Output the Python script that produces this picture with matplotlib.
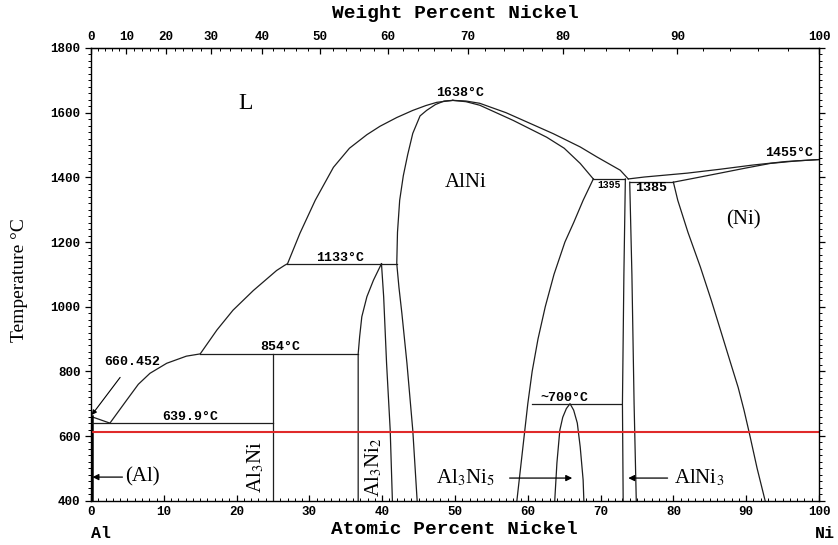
import numpy as np
import matplotlib
matplotlib.use("Agg")
import matplotlib.pyplot as plt
from matplotlib.ticker import MultipleLocator

plt.rcParams["mathtext.fontset"] = "stix"

# phase boundaries: atomic percent Ni vs temperature (deg C)
liq_left_x = [0, 2.6, 4.9, 6.5, 8.1, 10.4, 13.1, 15.0, 17.3, 19.5, 22.3, 25.5, 26.6, 27.0,
              28.7, 30.8, 33.3, 35.5, 37.9, 39.7, 42.0, 44.2, 46.0, 47.5, 49.7]
liq_left_t = [660.452, 639.9, 711, 760, 794, 825, 847, 854, 928, 989, 1050, 1112, 1128, 1133,
              1227, 1329, 1431, 1490, 1532, 1558, 1585, 1607, 1622, 1632, 1638]

liq_right_x = [49.7, 51.5, 53.4, 57.0, 60.3, 63.5, 67.2, 69.5, 72.7, 73.8]
liq_right_t = [1638, 1636, 1629, 1600, 1567, 1535, 1494, 1463, 1422, 1395]

alni_sol_x = [49.7, 51.5, 53.4, 58.0, 62.6, 65.0, 67.2, 69.0]
alni_sol_t = [1638, 1634, 1623, 1576, 1524, 1490, 1443, 1395]

alni_left_x = [49.7, 48.5, 47.3, 46.1, 45.2, 44.2, 43.5, 42.9, 42.4, 42.1, 42.0,
               42.3, 42.7, 43.4, 44.2, 44.8]
alni_left_t = [1638, 1636, 1625, 1607, 1590, 1536, 1470, 1405, 1329, 1230, 1133,
               1060, 980, 825, 618, 400]

alni_right_x = [69.0, 67.6, 66.3, 65.1, 63.6, 62.4, 61.4, 60.6, 60.0, 59.5, 59.0, 58.5]
alni_right_t = [1395, 1329, 1260, 1200, 1100, 1000, 900, 800, 700, 600, 500, 400]

al3ni2_left_x = [39.9, 38.8, 37.9, 37.2, 36.9, 36.7, 36.7]
al3ni2_left_t = [1133, 1082, 1031, 969, 907, 854, 400]
al3ni2_right_x = [39.9, 40.2, 40.6, 41.1, 41.4]
al3ni2_right_t = [1133, 1031, 825, 618, 400]

al3ni5_x = [63.7, 64.0, 64.4, 64.8, 65.3, 65.8, 66.3, 66.8, 67.2, 67.6, 67.7]
al3ni5_t = [400, 517, 618, 658, 685, 700, 680, 640, 566, 464, 400]

alni3_left_x = [73.4, 73.2, 73.0, 73.1]
alni3_left_t = [1395, 1100, 700, 400]
alni3_right_x = [74.0, 74.3, 74.6, 74.9]
alni3_right_t = [1385, 1100, 700, 400]

ni_liq_x = [73.8, 76.0, 81.9, 86.4, 90.9, 95.5, 100]
ni_liq_t = [1395, 1401, 1413, 1425, 1438, 1449, 1455]
ni_sol_x = [80.0, 83.0, 86.4, 90.0, 93.3, 97.0, 100]
ni_sol_t = [1385, 1398, 1413, 1429, 1443, 1451, 1455]

ni_solvus_x = [80.0, 80.6, 82.0, 83.7, 85.2, 86.6, 87.8, 88.9, 89.7, 90.4, 91.5, 92.6]
ni_solvus_t = [1385, 1329, 1230, 1123, 1020, 918, 830, 750, 680, 612, 500, 400]

al_solidus_x = [0.1, 0.1]
al_solidus_t = [660.452, 400]

# invariant lines: (x start, x end, temperature)
iso_lines = [
    (0, 25.0, 639.9),
    (15.0, 36.7, 854),
    (26.9, 42.0, 1133),
    (60.6, 72.8, 700),
    (69.0, 73.4, 1395),
    (74.0, 80.0, 1385),
]
al3ni_x = 25.0
al3ni_t = [854, 400]

red_t = 613

tick_t = [400, 600, 800, 1000, 1200, 1400, 1600, 1800]
tick_at = list(range(0, 101, 10))
tick_wt = list(range(0, 101, 10))


def at_to_wt(a):
    a = np.asarray(a, dtype=float)
    return 100 * 58.69 * a / (58.69 * a + 26.98 * (100 - a))


def wt_to_at(w):
    w = np.asarray(w, dtype=float)
    return 100 * (w / 58.69) / (w / 58.69 + (100 - w) / 26.98)


W, H = 838, 545
fig = plt.figure(figsize=(W / 100, H / 100), dpi=100)
ax = fig.add_axes([91 / W, 1 - 500.7 / H, 728 / W, 452.7 / H])

lc = "#1e1e1e"
lw = 0.9
curves = [
    (liq_left_x, liq_left_t), (liq_right_x, liq_right_t), (alni_sol_x, alni_sol_t),
    (alni_left_x, alni_left_t), (alni_right_x, alni_right_t),
    (al3ni2_left_x, al3ni2_left_t), (al3ni2_right_x, al3ni2_right_t),
    (al3ni5_x, al3ni5_t), (alni3_left_x, alni3_left_t), (alni3_right_x, alni3_right_t),
    (ni_liq_x, ni_liq_t), (ni_sol_x, ni_sol_t), (ni_solvus_x, ni_solvus_t),
]
for xs, ts in curves:
    ax.plot(xs, ts, color=lc, lw=lw)
ax.plot(al_solidus_x, al_solidus_t, color="black", lw=1.8)
for x0, x1, t in iso_lines:
    ax.plot([x0, x1], [t, t], color=lc, lw=lw)
ax.plot([al3ni_x, al3ni_x], al3ni_t, color=lc, lw=lw)

ax.axhline(red_t, color="#e02a2a", lw=1.5)

tickfont = dict(family="Liberation Mono", weight="bold", size=9)
ax.set_xlim(0, 100)
ax.set_ylim(400, 1800)
ax.set_xticks(tick_at)
ax.set_xticklabels([str(v) for v in tick_at], fontdict=tickfont)
ax.set_yticks(tick_t)
ax.set_yticklabels([str(v) for v in tick_t], fontdict=tickfont)
ax.xaxis.set_minor_locator(MultipleLocator(1))
ax.yaxis.set_minor_locator(MultipleLocator(20))
ax.tick_params(axis="x", which="both", direction="in")
ax.tick_params(axis="y", which="both", direction="out", right=True)
ax.tick_params(which="major", length=4, width=0.9)
ax.tick_params(which="minor", length=2, width=0.7)
for s in ax.spines.values():
    s.set_linewidth(1.0)

secax = ax.secondary_xaxis("top", functions=(at_to_wt, wt_to_at))
secax.set_xticks(tick_wt)
secax.set_xticklabels([str(v) for v in tick_wt], fontdict=tickfont)
secax.xaxis.set_minor_locator(MultipleLocator(2))
secax.tick_params(which="both", direction="in")
secax.tick_params(which="major", length=4, width=0.9)
secax.tick_params(which="minor", length=2, width=0.7)

mono = dict(family="Liberation Mono", weight="bold", fontsize=14, ha="center", va="center")
fig.text(455 / W, 1 - 13 / H, "Weight Percent Nickel", **mono)
fig.text(454 / W, 1 - 530 / H, "Atomic Percent Nickel", **mono)
corner = dict(family="Liberation Mono", weight="bold", fontsize=12, ha="center", va="center")
fig.text(101 / W, 1 - 533 / H, "Al", **corner)
fig.text(825 / W, 1 - 533 / H, "Ni", **corner)
fig.text(19.5 / W, 1 - 280 / H, "Temperature °C", family="Liberation Serif", fontsize=14,
         rotation=90, ha="center", va="center")

serif = dict(family="Liberation Serif", fontsize=15, ha="center", va="center")
ax.text(21.2, 1629, "L", family="Liberation Serif", fontsize=17, ha="center", va="center")
ax.text(51.4, 1385, "AlNi", **serif)
ax.text(89.6, 1267, "(Ni)", **serif)
ax.text(22.7, 503, "Al$_3$Ni", rotation=90, **serif)
ax.text(38.8, 505, "Al$_3$Ni$_2$", rotation=90, **serif)
ax.text(51.5, 470, "Al$_3$Ni$_5$", **serif)
ax.text(83.5, 470, "AlNi$_3$", **serif)

arrow = dict(arrowstyle="-|>", color="black", lw=0.9, mutation_scale=9, shrinkA=0, shrinkB=0)
ax.annotate("(Al)", xy=(0.2, 473), xytext=(4.7, 473), ha="left", va="center",
            family="Liberation Serif", fontsize=15, arrowprops=arrow)
ax.annotate("", xy=(66.1, 470), xytext=(57.5, 470), arrowprops=arrow)
ax.annotate("", xy=(73.8, 470), xytext=(79.2, 470), arrowprops=arrow)

small = dict(family="Liberation Mono", weight="bold", fontsize=9.5, ha="center", va="center")
ax.text(50.7, 1660, "1638°C", **small)
ax.text(34.2, 1150, "1133°C", **small)
ax.text(26.0, 874, "854°C", **small)
ax.text(13.6, 659, "639.9°C", **small)
ax.text(95.9, 1474, "1455°C", **small)
ax.text(65.0, 717, "~700°C", **small)
ax.text(76.9, 1366, "1385", **small)
ax.text(71.2, 1376, "1395", family="Liberation Mono", weight="bold", fontsize=7,
        ha="center", va="center")
ax.annotate("660.452", xy=(0.1, 665), xytext=(5.6, 829), ha="center", va="center",
            family="Liberation Mono", weight="bold", fontsize=9.5,
            arrowprops=dict(arrowstyle="-|>", color="black", lw=0.8, mutation_scale=7,
                            shrinkA=6, shrinkB=0))

fig.savefig("out.png", dpi=100)
